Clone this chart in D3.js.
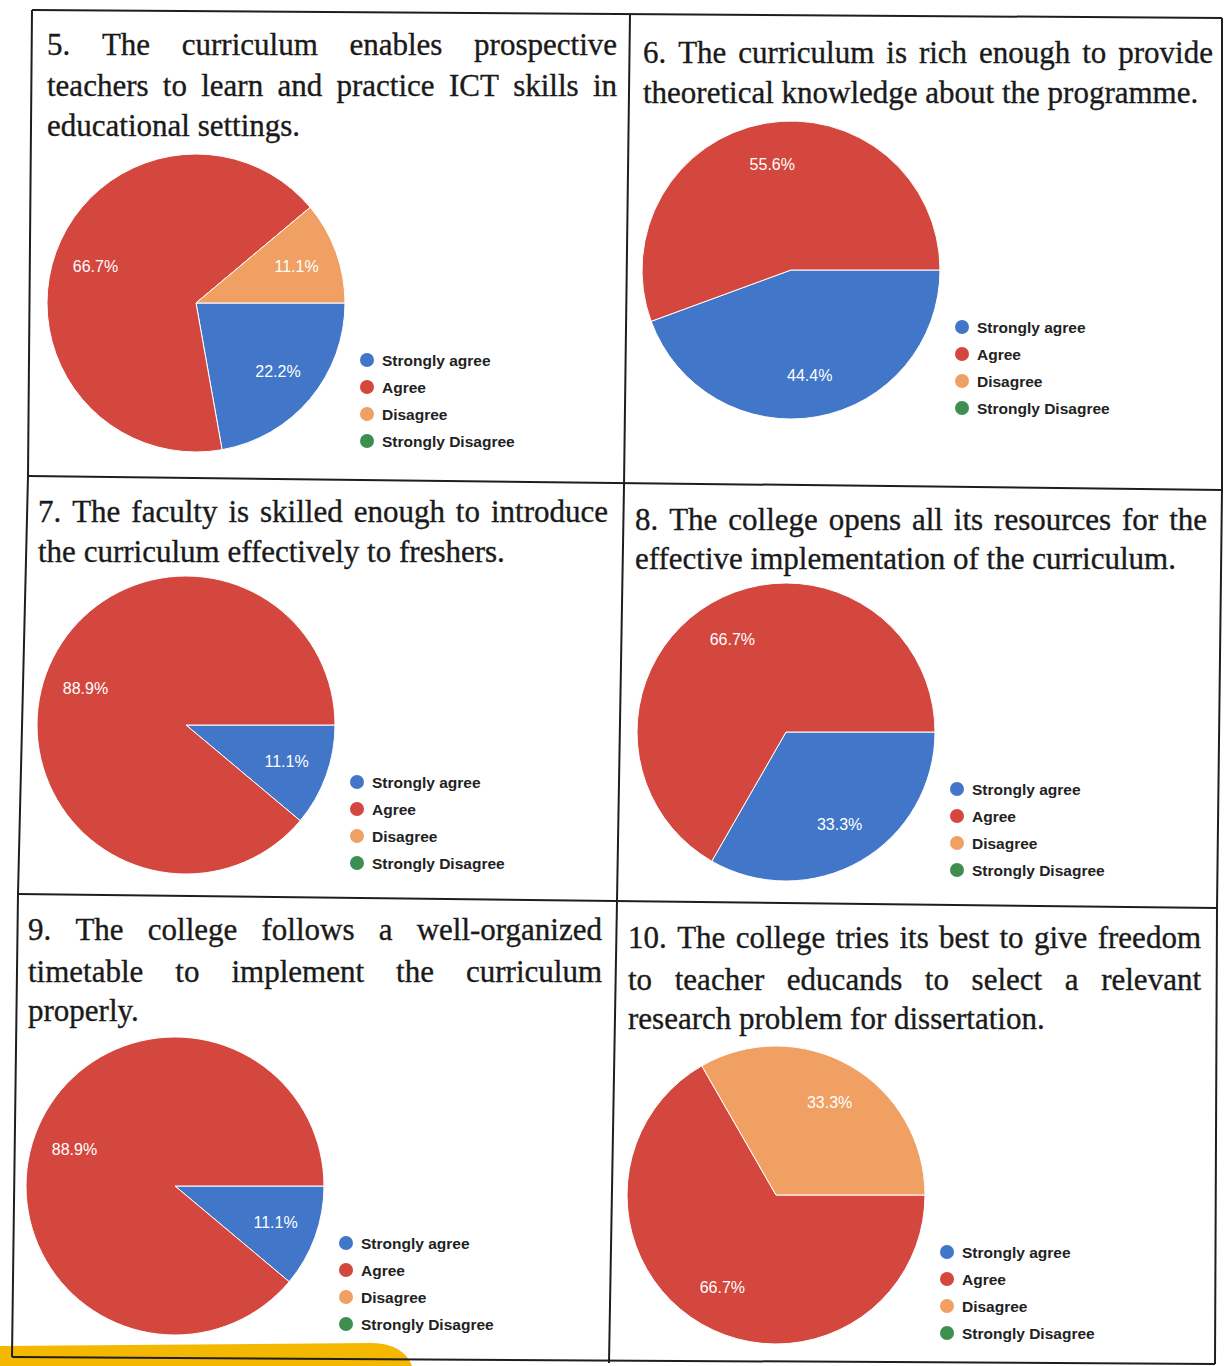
<!DOCTYPE html>
<html>
<head>
<meta charset="utf-8">
<script src="https://cdn.jsdelivr.net/npm/d3@7"></script>
<style>
  html, body { margin: 0; padding: 0; background: #ffffff; }
  svg { display: block; }
</style>
</head>
<body>
<svg id="chart" width="1225" height="1366"></svg>
<script>
// ---------- data ----------
const categories = ["Strongly agree", "Agree", "Disagree", "Strongly Disagree"];
const colors = ["#4276c8", "#d4473e", "#efa062", "#3e8e4f"];

const q5Values  = [22.2, 66.7, 11.1, 0];
const q6Values  = [44.4, 55.6, 0, 0];
const q7Values  = [11.1, 88.9, 0, 0];
const q8Values  = [33.3, 66.7, 0, 0];
const q9Values  = [11.1, 88.9, 0, 0];
const q10Values = [0, 66.7, 33.3, 0];

const q5Title  = ["5. The curriculum enables prospective", "teachers to learn and practice ICT skills in", "educational settings."];
const q6Title  = ["6. The curriculum is rich enough to provide", "theoretical knowledge about the programme."];
const q7Title  = ["7. The faculty is skilled enough to introduce", "the curriculum effectively to freshers."];
const q8Title  = ["8. The college opens all its resources for the", "effective implementation of the curriculum."];
const q9Title  = ["9. The college follows a well-organized", "timetable to implement the curriculum", "properly."];
const q10Title = ["10. The college tries its best to give freedom", "to teacher educands to select a relevant", "research problem for dissertation."];

// ---------- layout ----------
const panels = [
  { title: q5Title,  values: q5Values,  tx0: 47,  tx1: 617,  ty: [55, 96, 136],   justifyCount: 2, cx: 196, cy: 303 },
  { title: q6Title,  values: q6Values,  tx0: 643, tx1: 1213, ty: [63, 103],        justifyCount: 1, cx: 791, cy: 270 },
  { title: q7Title,  values: q7Values,  tx0: 38,  tx1: 608,  ty: [522, 562],       justifyCount: 1, cx: 186, cy: 725 },
  { title: q8Title,  values: q8Values,  tx0: 635, tx1: 1207, ty: [530, 569],       justifyCount: 1, cx: 786, cy: 732 },
  { title: q9Title,  values: q9Values,  tx0: 28,  tx1: 602,  ty: [940, 982, 1021], justifyCount: 2, cx: 175, cy: 1186 },
  { title: q10Title, values: q10Values, tx0: 628, tx1: 1201, ty: [948, 990, 1029], justifyCount: 2, cx: 776, cy: 1195 }
];

const R = 149;
const svg = d3.select("#chart");

// yellow highlight at bottom-left (scan artefact)
svg.append("path")
  .attr("d", "M0,1346 L372,1343 Q404,1344 412,1366 L0,1366 Z")
  .attr("fill", "#f5b800");

// ---------- table borders ----------
const borderColor = "#1e1e1e";
const lines = [
  [[32,10],[1222,18]],
  [[28,476],[1222,490]],
  [[18,894],[1217,908]],
  [[12,1357],[1215,1364]],
  [[32,10],[28,476],[18,894],[12,1357]],
  [[630,14],[624,486],[617,901],[609,1363]],
  [[1222,18],[1222,490],[1217,908],[1215,1364]]
];
const lineGen = d3.line();
svg.append("g").selectAll("path").data(lines).join("path")
  .attr("d", d => lineGen(d))
  .attr("fill", "none")
  .attr("stroke", borderColor)
  .attr("stroke-width", 2);

// ---------- pies ----------
const pie = d3.pie().sort(null).value(d => d)
  .startAngle(Math.PI / 2).endAngle(Math.PI / 2 + 2 * Math.PI);
const arc = d3.arc().innerRadius(0).outerRadius(R);
const labelArc = d3.arc().innerRadius(107).outerRadius(107);

const titleFont = "'Liberation Serif', 'Times New Roman', serif";
const sansFont = "'Liberation Sans', Arial, sans-serif";

function drawTitleLine(g, text, x0, x1, y, justify) {
  const words = text.split(" ");
  const nodes = words.map(w => g.append("text")
    .attr("y", y)
    .attr("font-family", titleFont)
    .attr("font-size", 31)
    .attr("fill", "#1a1a1a")
    .attr("stroke", "#1a1a1a")
    .attr("stroke-width", 0.35)
    .text(w));
  const widths = nodes.map(n => n.node().getComputedTextLength());
  const total = d3.sum(widths);
  const gap = (justify && words.length > 1) ? (x1 - x0 - total) / (words.length - 1) : 7.75;
  let x = x0;
  nodes.forEach((n, i) => { n.attr("x", x); x += widths[i] + gap; });
}

panels.forEach(p => {
  const g = svg.append("g");
  p.title.forEach((line, i) => drawTitleLine(g, line, p.tx0, p.tx1, p.ty[i], i < p.justifyCount));

  const pg = g.append("g").attr("transform", `translate(${p.cx},${p.cy})`);
  const arcs = pie(p.values);
  pg.selectAll("path").data(arcs.filter(d => d.value > 0)).join("path")
    .attr("d", arc)
    .attr("fill", d => colors[d.index])
    .attr("stroke", "#ffffff")
    .attr("stroke-width", 1);

  pg.selectAll("text.lbl").data(arcs.filter(d => d.value > 0)).join("text")
    .attr("class", "lbl")
    .attr("transform", d => `translate(${labelArc.centroid(d)})`)
    .attr("text-anchor", "middle")
    .attr("dominant-baseline", "central")
    .attr("font-family", sansFont)
    .attr("font-size", 16)
    .attr("fill", "#ffffff")
    .text(d => d.value.toFixed(1) + "%");

  // legend
  const lg = g.append("g").attr("transform", `translate(${p.cx + 171},${p.cy + 57})`);
  const items = lg.selectAll("g").data(categories).join("g")
    .attr("transform", (d, i) => `translate(0,${i * 27})`);
  items.append("circle").attr("r", 7).attr("fill", (d, i) => colors[i]);
  items.append("text")
    .attr("x", 15)
    .attr("dominant-baseline", "central")
    .attr("font-family", sansFont)
    .attr("font-size", 15.5)
    .attr("font-weight", "bold")
    .attr("fill", "#222222")
    .text(d => d);
});
</script>
</body>
</html>
